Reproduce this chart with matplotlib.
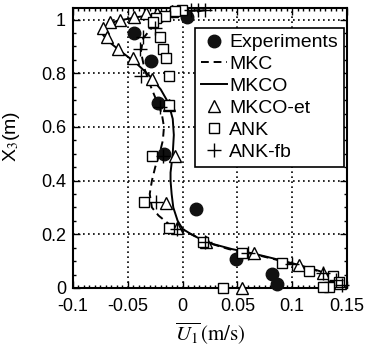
import matplotlib
matplotlib.use("Agg")
import matplotlib.pyplot as plt
from matplotlib.ticker import MultipleLocator, FuncFormatter

# ---- data ----
exp_u = [0.004, -0.0445, -0.029, -0.022, -0.017, 0.012, 0.049, 0.082, 0.086]
exp_z = [1.01, 0.95, 0.845, 0.69, 0.50, 0.295, 0.108, 0.052, 0.015]

mkc_u = [0.02, 0.0, -0.015, -0.028, -0.036, -0.038, -0.035, -0.030, -0.024, -0.019,
         -0.017, -0.018, -0.021, -0.025, -0.028, -0.030, -0.028, -0.022, -0.013, -0.005,
         0.008, 0.022, 0.042, 0.063, 0.083, 0.103, 0.124, 0.137, 0.145, 0.146, 0.13]
mkc_z = [1.035, 1.02, 1.0, 0.97, 0.93, 0.88, 0.82, 0.76, 0.70, 0.65,
         0.60, 0.55, 0.50, 0.45, 0.40, 0.35, 0.30, 0.27, 0.24, 0.22,
         0.20, 0.17, 0.145, 0.128, 0.108, 0.087, 0.063, 0.04, 0.02, 0.005, 0.0]

mkco_u = [0.015, -0.01, -0.04, -0.06, -0.072, -0.074, -0.068, -0.056, -0.043, -0.030,
          -0.020, -0.013, -0.009, -0.008, -0.009, -0.011, -0.011, -0.010, -0.0085, -0.0045,
          0.0, 0.008, 0.022, 0.045, 0.065, 0.085, 0.105, 0.125, 0.138, 0.145, 0.146, 0.13]
mkco_z = [1.035, 1.025, 1.01, 0.995, 0.97, 0.95, 0.92, 0.88, 0.84, 0.79,
          0.74, 0.69, 0.63, 0.57, 0.50, 0.43, 0.40, 0.35, 0.30, 0.25,
          0.22, 0.20, 0.17, 0.145, 0.128, 0.108, 0.087, 0.063, 0.04, 0.02, 0.005, 0.0]

et_u = [-0.01, -0.023, -0.033, -0.044, -0.057, -0.066, -0.073, -0.069, -0.059, -0.045,
        -0.028, -0.0125, -0.0065, -0.0155, -0.005, 0.021, 0.065, 0.106, 0.128, 0.138,
        0.144, 0.054]
et_z = [1.03, 1.025, 1.025, 1.01, 1.0, 0.99, 0.97, 0.935, 0.89, 0.855,
        0.78, 0.68, 0.49, 0.317, 0.225, 0.17, 0.13, 0.086, 0.055, 0.037,
        0.02, 0.0]

ank_u = [-0.001, -0.007, -0.016, -0.024, -0.027, -0.021, -0.018, -0.015, -0.0125, -0.012,
         -0.0275, -0.035, -0.012, 0.019, 0.054, 0.091, 0.115, 0.137, 0.143, 0.134,
         0.128, 0.037]
ank_z = [1.035, 1.03, 1.015, 1.005, 0.99, 0.935, 0.89, 0.855, 0.79, 0.68,
         0.49, 0.32, 0.225, 0.17, 0.13, 0.092, 0.065, 0.045, 0.024, 0.003,
         0.003, 0.0]

fb_u = [0.02, 0.014, 0.008, -0.025, -0.036, -0.039, -0.038, -0.021, -0.018, -0.024,
        -0.005, 0.02, 0.06, 0.10, 0.128, 0.14, 0.145]
fb_z = [1.035, 1.035, 1.035, 0.97, 0.935, 0.89, 0.79, 0.675, 0.49, 0.32,
        0.22, 0.17, 0.13, 0.09, 0.055, 0.03, 0.01]

x_ticks = [-0.1, -0.05, 0, 0.05, 0.1, 0.15]
y_ticks = [0, 0.2, 0.4, 0.6, 0.8, 1.0]

plt.rcParams['font.family'] = ['Liberation Sans', 'DejaVu Sans']
plt.rcParams['mathtext.fontset'] = 'stix'

fig = plt.figure(figsize=(3.72, 3.45), dpi=100)
ax = fig.add_axes([73/372, 1-288/345, 274/372, 280/345])

ax.plot(mkc_u, mkc_z, 'k--', lw=1.4, dashes=(4, 2.5), label='MKC')
ax.plot(mkco_u, mkco_z, 'k-', lw=1.4, label='MKCO')
ax.plot(exp_u, exp_z, 'o', color='#111111', ms=9, ls='none', label='Experiments', clip_on=False, zorder=3)
ax.plot(et_u, et_z, '^', mfc='white', mec='k', mew=1.0, ms=8.5, ls='none', label='MKCO-et', clip_on=False, zorder=4)
ax.plot(ank_u, ank_z, 's', mfc='white', mec='k', mew=1.0, ms=7.5, ls='none', label='ANK', clip_on=False, zorder=4)
ax.plot(fb_u, fb_z, '+', color='k', mew=1.0, ms=10, ls='none', label='ANK-fb', clip_on=False, zorder=5)

ax.set_xlim(-0.1, 0.15)
ax.set_ylim(0, 1.043)
ax.set_xticks(x_ticks)
ax.set_yticks(y_ticks)
fmt = FuncFormatter(lambda v, p: '%g' % round(v, 3))
ax.xaxis.set_major_formatter(fmt)
ax.yaxis.set_major_formatter(fmt)
ax.xaxis.set_minor_locator(MultipleLocator(0.005))
ax.yaxis.set_minor_locator(MultipleLocator(0.05))
ax.tick_params(which='both', direction='in', top=True, right=True, width=1.0, labelsize=13)
ax.tick_params(which='major', length=5)
ax.tick_params(which='minor', length=2.5)
ax.tick_params(axis='x', pad=7)
ax.tick_params(axis='y', pad=5)
ax.grid(True, which='major', color='k', linestyle=(0, (1, 2)), lw=1.2)
for s in ax.spines.values():
    s.set_linewidth(1.5)

ax.set_xlabel(r'$\overline{U_1}\,\mathrm{(m/s)}$', fontsize=15, labelpad=4)
ax.set_ylabel(r'X$_3$(m)', fontsize=14)
ax.yaxis.set_label_coords(-0.185, 0.54)

h, l = ax.get_legend_handles_labels()
order = ['Experiments', 'MKC', 'MKCO', 'MKCO-et', 'ANK', 'ANK-fb']
hd = dict(zip(l, h))
leg = ax.legend([hd[k] for k in order], order, loc='upper right',
                bbox_to_anchor=(0.989, 0.929), fontsize=14, frameon=True,
                fancybox=False, edgecolor='k', framealpha=1, handlelength=1.35,
                handletextpad=0.1, labelspacing=0.22, borderpad=0.3,
                borderaxespad=0)
leg.get_frame().set_linewidth(1.2)

fig.savefig('out.png', dpi=100)
